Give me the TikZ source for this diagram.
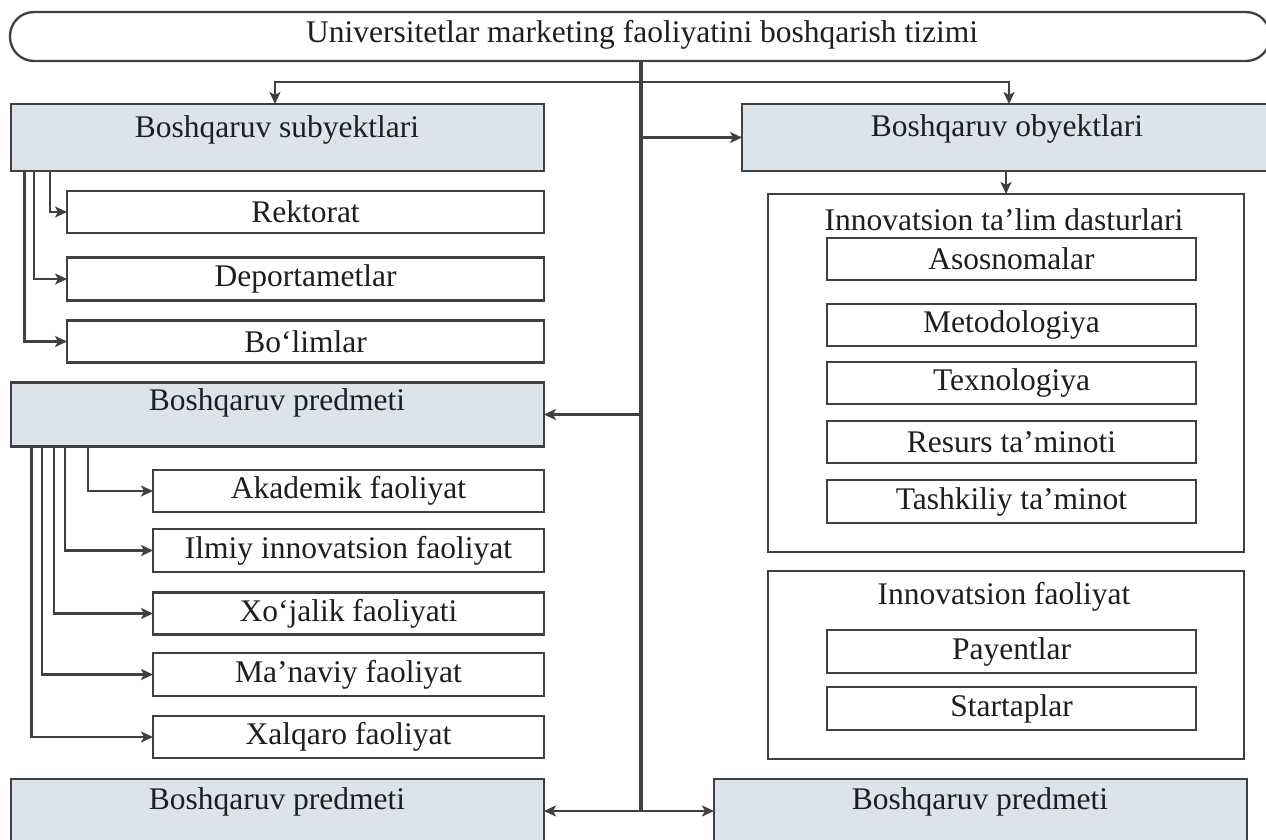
\documentclass[tikz,border=0pt]{standalone}
\usepackage{fontspec}
\setmainfont{Liberation Serif}
\usetikzlibrary{arrows.meta}
\definecolor{ln}{HTML}{404040}
\definecolor{gfill}{HTML}{DDE3EA}
\definecolor{tx}{HTML}{1E1E1E}
\tikzset{
  base/.style={draw=ln, line width=2.3pt, inner sep=0pt, outer sep=0pt},
  graybox/.style={base, fill=gfill},
  whitebox/.style={base, fill=white, text=tx, font=\fontsize{31.5}{36}\selectfont},
  frame/.style={base, fill=white},
  lbl/.style={inner sep=0pt, text=tx, font=\fontsize{31.5}{36}\selectfont},
  conn/.style={draw=ln, line width=2.3pt},
  arr/.style={conn, -{Stealth[length=12pt,width=11pt,inset=3pt]}},
  trunkline/.style={draw=ln, line width=3.4pt}
}
\begin{document}
\begin{tikzpicture}[x=1pt,y=-1pt]
\clip (0,0) rectangle (1266,840);
\fill[white] (0,0) rectangle (1266,840);
% top terminator
\node[base, fill=white, minimum width=1260pt, minimum height=49pt, rounded corners=24pt] (top) at (640,36.5) {};
\node[lbl] (toplbl) at (642,35) {Universitetlar marketing faoliyatini boshqarish tizimi};
% main gray boxes
\node[graybox, minimum width=533pt, minimum height=67pt] (subj) at (277.5,137.5) {};
\node[lbl] (subjlbl) at (277,130) {Boshqaruv subyektlari};
\node[graybox, minimum width=528pt, minimum height=67pt] (obj) at (1006,137.5) {};
\node[lbl] (objlbl) at (1007,129) {Boshqaruv obyektlari};
\node[graybox, minimum width=533pt, minimum height=64pt] (pred) at (277.5,414.5) {};
\node[lbl] (predlbl) at (277,403) {Boshqaruv predmeti};
\node[graybox, minimum width=533pt, minimum height=90pt] (bl) at (277.5,824) {};
\node[lbl] (bllbl) at (277,802) {Boshqaruv predmeti};
\node[graybox, minimum width=533pt, minimum height=90pt] (br) at (980.5,824) {};
\node[lbl] (brlbl) at (980,802) {Boshqaruv predmeti};
% subyektlari children
\node[whitebox, minimum width=477pt, minimum height=42pt] (rek) at (305.5,212) {Rektorat};
\node[whitebox, minimum width=477pt, minimum height=43pt] (dep) at (305.5,279) {Deportametlar};
\node[whitebox, minimum width=477pt, minimum height=42pt] (bol) at (305.5,341.5) {Bo‘limlar};
% predmeti children
\node[whitebox, minimum width=391pt, minimum height=42pt] (aka) at (348.5,491) {Akademik faoliyat};
\node[whitebox, minimum width=391pt, minimum height=43pt] (ilm) at (348.5,550.5) {Ilmiy innovatsion faoliyat};
\node[whitebox, minimum width=391pt, minimum height=42pt] (xoj) at (348.5,613.5) {Xo‘jalik faoliyati};
\node[whitebox, minimum width=391pt, minimum height=43pt] (man) at (348.5,674.5) {Ma’naviy faoliyat};
\node[whitebox, minimum width=391pt, minimum height=42pt] (xal) at (348.5,737) {Xalqaro faoliyat};
% right containers
\node[frame, minimum width=476pt, minimum height=358pt] (c1) at (1006,373) {};
\node[lbl] (c1lbl) at (1004,220) {Innovatsion ta’lim dasturlari};
\node[whitebox, minimum width=369pt, minimum height=42pt] (aso) at (1011.5,259) {Asosnomalar};
\node[whitebox, minimum width=369pt, minimum height=42pt] (met) at (1011.5,325) {Metodologiya};
\node[whitebox, minimum width=369pt, minimum height=42pt] (tex) at (1011.5,383) {Texnologiya};
\node[whitebox, minimum width=369pt, minimum height=42pt] (res) at (1011.5,442) {Resurs ta’minoti};
\node[whitebox, minimum width=369pt, minimum height=43pt] (tas) at (1011.5,501.5) {Tashkiliy ta’minot};
\node[frame, minimum width=476pt, minimum height=188pt] (c2) at (1006,665) {};
\node[lbl] (c2lbl) at (1004,597) {Innovatsion faoliyat};
\node[whitebox, minimum width=369pt, minimum height=43pt] (pay) at (1011.5,651.5) {Payentlar};
\node[whitebox, minimum width=369pt, minimum height=43pt] (sta) at (1011.5,708.5) {Startaplar};
% trunk
\coordinate (t0) at (641,61);
\coordinate (j82) at (641,82);
\coordinate (tend) at (641,811);
\draw[trunkline] (t0) -- (tend);
\draw[arr] (j82) -| ([xshift=-2.5pt]subj.north);
\draw[arr] (j82) -| ([xshift=3pt]obj.north);
\draw[arr] (obj.west -| t0) -- (obj.west);
\draw[arr] (pred.east -| t0) -- (pred.east);
\draw[arr] (tend) -- (tend -| bl.east);
\draw[arr] (tend) -- (tend -| br.west);
\draw[arr] (c1.north |- obj.south) -- (c1.north);
% subyektlari branches
\draw[arr] (subj.south west) ++(39,0) |- (rek.west);
\draw[arr] (subj.south west) ++(23,0) |- (dep.west);
\draw[arr] (subj.south west) ++(13.5,0) |- (bol.west);
% predmeti branches
\draw[arr] (pred.south west) ++(77,0) |- (aka.west);
\draw[arr] (pred.south west) ++(54,0) |- (ilm.west);
\draw[arr] (pred.south west) ++(43,0) |- (xoj.west);
\draw[arr] (pred.south west) ++(31,0) |- (man.west);
\draw[arr] (pred.south west) ++(20.5,0) |- (xal.west);
\end{tikzpicture}
\end{document}
